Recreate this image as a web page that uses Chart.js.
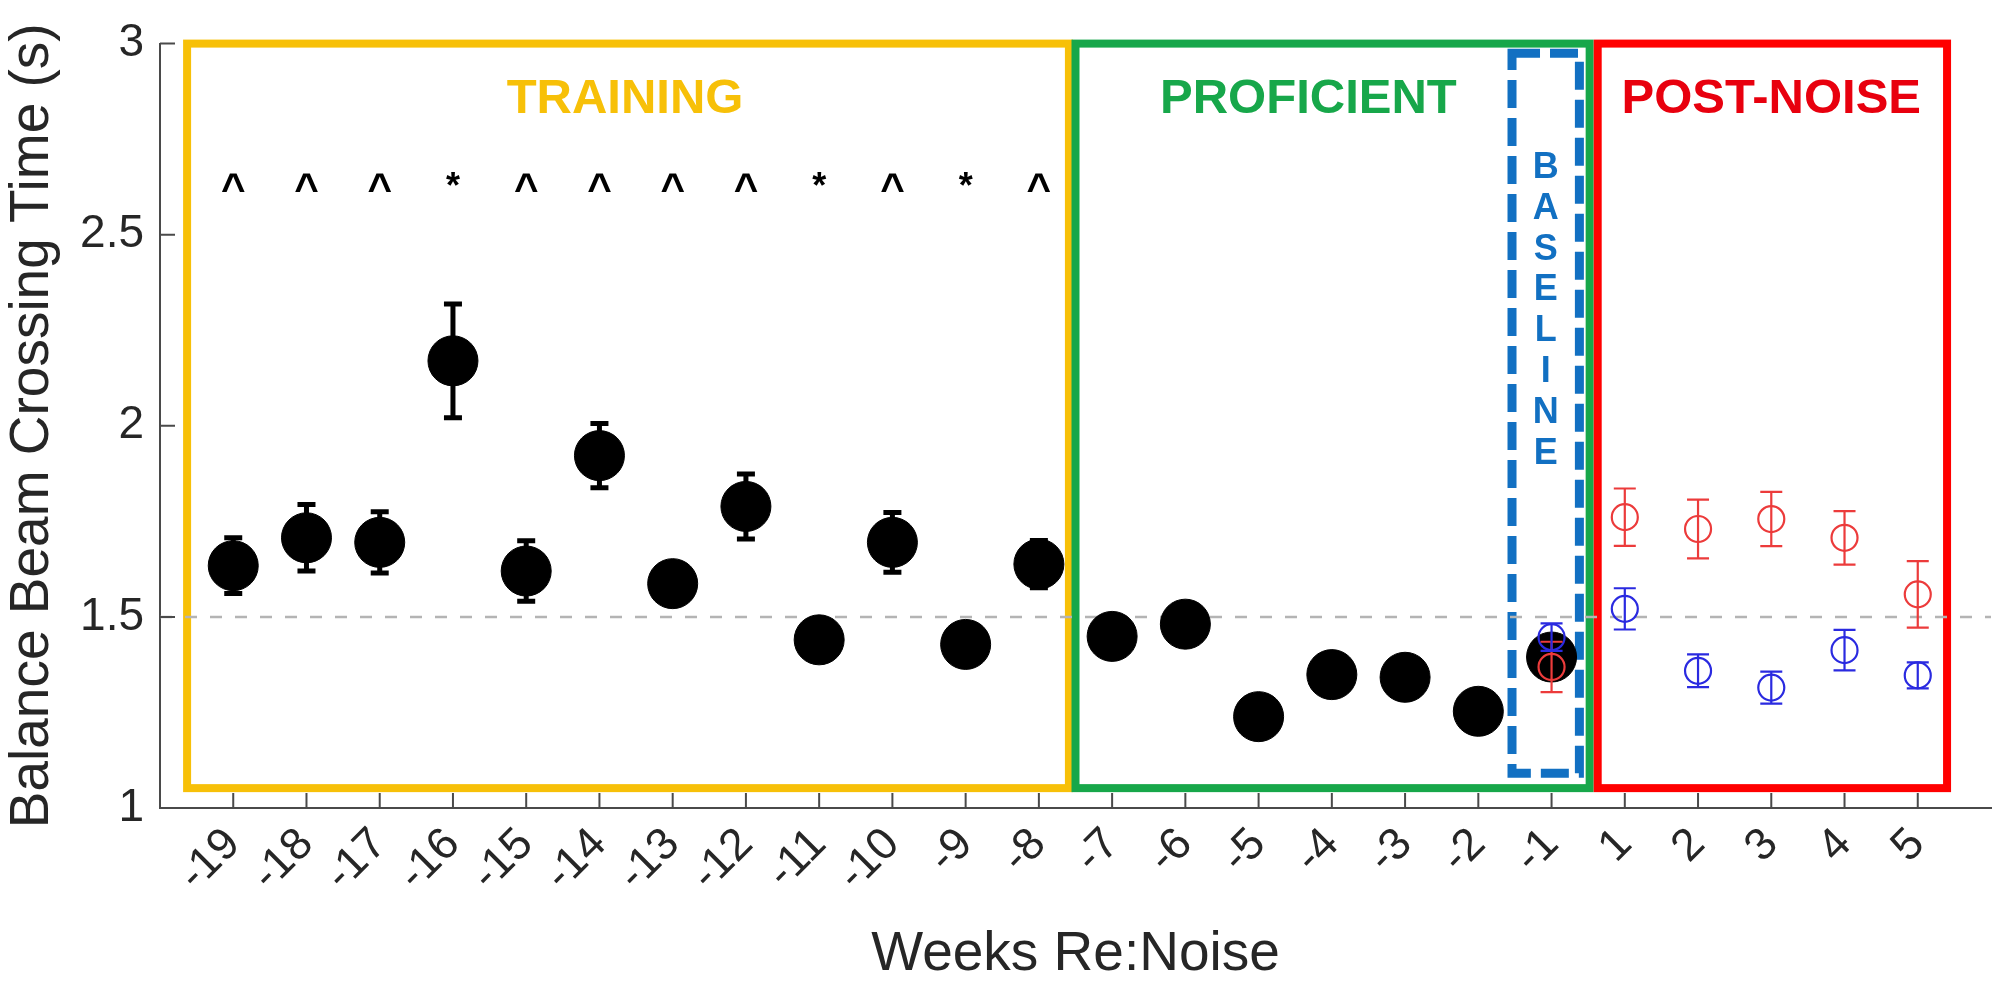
<!DOCTYPE html>
<html>
<head>
<meta charset="utf-8">
<script src="https://cdn.jsdelivr.net/npm/chart.js@4/dist/chart.umd.min.js"></script>
<style>
html,body{margin:0;padding:0;background:#fff;overflow:hidden;}
#wrap{width:1995px;height:991px;position:relative;}
canvas{display:block;}
</style>
</head>
<body>
<div id="wrap"><canvas id="c"></canvas></div>
<script>
// ---------- data ----------
const weeks = ['-19','-18','-17','-16','-15','-14','-13','-12','-11','-10','-9','-8','-7','-6','-5','-4','-3','-2','-1','1','2','3','4','5'];
const preWeeks = ['-19','-18','-17','-16','-15','-14','-13','-12','-11','-10','-9','-8','-7','-6','-5','-4','-3','-2','-1'];
const preMean = [1.634,1.707,1.695,2.170,1.620,1.922,1.587,1.789,1.440,1.695,1.428,1.638,1.449,1.481,1.239,1.349,1.342,1.253,1.395];
const preErr  = [0.073,0.087,0.080,0.149,0.079,0.084,0.040,0.085,0.040,0.078,0.040,0.062,0.040,0.040,0.040,0.040,0.040,0.040,0.040];
const postWeeks = ['-1','1','2','3','4','5'];
const redMean  = [1.369,1.761,1.730,1.756,1.707,1.559];
const redErr   = [0.066,0.075,0.077,0.071,0.070,0.087];
const blueMean = [1.447,1.521,1.359,1.315,1.413,1.347];
const blueErr  = [0.036,0.054,0.043,0.042,0.053,0.034];
const sigWeeks = ['-19','-18','-17','-16','-15','-14','-13','-12','-11','-10','-9','-8'];
const sigMarks = ['^','^','^','*','^','^','^','^','*','^','*','^'];
const sigLevel = 2.632;
const refLine = 1.5;
const yTicks = [1,1.5,2,2.5,3];

const xi = w => weeks.indexOf(w) + 1;
const FONT = "'Liberation Sans', Arial, sans-serif";
const AXIS = '#4a4a4a';
const TXT = '#262626';

// ---------- region annotations (index units on x, data units on y) ----------
const regions = [
  {x0:0.37, x1:12.41, y0:1.052, y1:3.0, color:'#F7C008', dash:null},
  {x0:12.50, x1:19.52, y0:1.052, y1:3.0, color:'#17A74A', dash:null},
  {x0:19.63, x1:24.40, y0:1.052, y1:3.0, color:'#FF0000', dash:null},
  {x0:18.46, x1:19.38, y0:1.091, y1:2.975, color:'#1270C2', dash:[28,10]}
];
const regionText = [
  {text:'TRAINING', x:6.35, y:2.855, color:'#F7C008'},
  {text:'PROFICIENT', x:15.68, y:2.855, color:'#17A74A'},
  {text:'POST-NOISE', x:22.0, y:2.855, color:'#E8000E'}
];
const baselineLetters = ['B','A','S','E','L','I','N','E'];

const regionPlugin = {
  id:'regions',
  beforeDatasetsDraw(chart){
    const {ctx, scales:{x,y}} = chart;
    ctx.save();
    regions.forEach(r=>{
      const L=x.getPixelForValue(r.x0), R=x.getPixelForValue(r.x1);
      const T=y.getPixelForValue(r.y1), B=y.getPixelForValue(r.y0);
      ctx.strokeStyle=r.color; ctx.lineWidth=r.dash?9:8;
      ctx.setLineDash(r.dash||[]);
      ctx.strokeRect(L,T,R-L,B-T);
    });
    ctx.setLineDash([]);
    ctx.textAlign='center'; ctx.textBaseline='middle';
    ctx.font = "bold 49px " + FONT;
    regionText.forEach(t=>{
      ctx.fillStyle=t.color;
      ctx.fillText(t.text, x.getPixelForValue(t.x), y.getPixelForValue(t.y));
    });
    ctx.font = "bold 36px " + FONT;
    ctx.fillStyle='#1270C2';
    const bx = x.getPixelForValue(18.92);
    baselineLetters.forEach((ch,i)=>{
      ctx.fillText(ch, bx, y.getPixelForValue(2.675 - i*0.107));
    });
    // significance marks
    ctx.fillStyle='#000';
    sigWeeks.forEach((w,i)=>{
      const px=x.getPixelForValue(xi(w)), py=y.getPixelForValue(sigLevel);
      if(sigMarks[i]==='^'){
        ctx.font = "bold 42px " + FONT;
        ctx.fillText('^', px, py+7);
      } else {
        ctx.font = "bold 36px " + FONT;
        ctx.fillText('*', px, py+4);
      }
    });
    ctx.restore();
  }
};

// error bars + inward ticks
function drawErr(ctx, x, y, px, m, e, color, lw, cap){
  const X=x.getPixelForValue(px), T=y.getPixelForValue(m+e), B=y.getPixelForValue(m-e);
  ctx.strokeStyle=color; ctx.lineWidth=lw;
  ctx.beginPath();
  ctx.moveTo(X,T); ctx.lineTo(X,B);
  ctx.moveTo(X-cap/2,T); ctx.lineTo(X+cap/2,T);
  ctx.moveTo(X-cap/2,B); ctx.lineTo(X+cap/2,B);
  ctx.stroke();
}
const errPlugin = {
  id:'errs',
  beforeDatasetsDraw(chart){
    const {ctx, scales:{x,y}} = chart;
    ctx.save();
    preWeeks.forEach((w,i)=>drawErr(ctx,x,y,xi(w),preMean[i],preErr[i],'#000',5,18));
    ctx.restore();
  },
  afterDatasetsDraw(chart){
    const {ctx, scales:{x,y}, chartArea:a} = chart;
    ctx.save();
    postWeeks.forEach((w,i)=>drawErr(ctx,x,y,xi(w),redMean[i],redErr[i],'#EC3B3B',2.2,22));
    postWeeks.forEach((w,i)=>drawErr(ctx,x,y,xi(w),blueMean[i],blueErr[i],'#2A2AE0',2.2,22));
    // inward ticks
    ctx.strokeStyle=AXIS; ctx.lineWidth=2;
    ctx.beginPath();
    x.ticks.forEach(t=>{const X=x.getPixelForValue(t.value); ctx.moveTo(X,a.bottom); ctx.lineTo(X,a.bottom-15);});
    y.ticks.forEach(t=>{const Y=y.getPixelForValue(t.value); ctx.moveTo(a.left,Y); ctx.lineTo(a.left+15,Y);});
    ctx.stroke();
    ctx.restore();
  }
};

const preData = preWeeks.map((w,i)=>({x:xi(w), y:preMean[i]}));
const redData = postWeeks.map((w,i)=>({x:xi(w), y:redMean[i]}));
const blueData = postWeeks.map((w,i)=>({x:xi(w), y:blueMean[i]}));

new Chart(document.getElementById('c'), {
  type:'scatter',
  data:{datasets:[
    {type:'line', data:[{x:0,y:refLine},{x:weeks.length+1,y:refLine}], borderColor:'#b4b4b4', borderWidth:2.5, borderDash:[12,13], pointRadius:0, order:5},
    {data:preData, backgroundColor:'#000', borderColor:'#000', pointRadius:25, pointHoverRadius:25, order:4},
    {data:redData, backgroundColor:'rgba(0,0,0,0)', borderColor:'#EC3B3B', borderWidth:2.2, pointRadius:13, pointHoverRadius:13, order:3},
    {data:blueData, backgroundColor:'rgba(0,0,0,0)', borderColor:'#2A2AE0', borderWidth:2.2, pointRadius:13, pointHoverRadius:13, order:2}
  ]},
  options:{
    responsive:true, maintainAspectRatio:false, animation:false, devicePixelRatio:1,
    layout:{autoPadding:false, padding:{top:42,right:4,left:0,bottom:0}},
    plugins:{legend:{display:false}, tooltip:{enabled:false}},
    scales:{
      x:{
        type:'linear', min:0, max:weeks.length+1,
        afterBuildTicks(axis){ axis.ticks = weeks.map((w,i)=>({value:i+1})); },
        afterFit(scale){ scale.height = 183; },
        grid:{display:true, drawOnChartArea:false, drawTicks:false},
        border:{display:true, color:AXIS, width:2},
        ticks:{autoSkip:false, minRotation:45, maxRotation:45, padding:10, color:TXT,
          font:{family:FONT, size:45},
          callback:(v)=> weeks[Math.round(v)-1] ?? ''},
        title:{display:true, text:'Weeks Re:Noise', color:TXT, font:{family:FONT, size:55}, padding:{top:0,bottom:3}}
      },
      y:{
        min:1, max:3,
        afterBuildTicks(axis){ axis.ticks = yTicks.map(v=>({value:v})); },
        afterFit(scale){ scale.width = 160; },
        grid:{display:true, drawOnChartArea:false, drawTicks:false},
        border:{display:true, color:AXIS, width:2},
        ticks:{padding:16, color:TXT, font:{family:FONT, size:46}, callback:v=>String(v)},
        title:{display:true, text:'Balance Beam Crossing Time (s)', color:TXT, font:{family:FONT, size:55}, padding:{top:0,bottom:0}}
      }
    }
  },
  plugins:[regionPlugin, errPlugin]
});
</script>
</body>
</html>
